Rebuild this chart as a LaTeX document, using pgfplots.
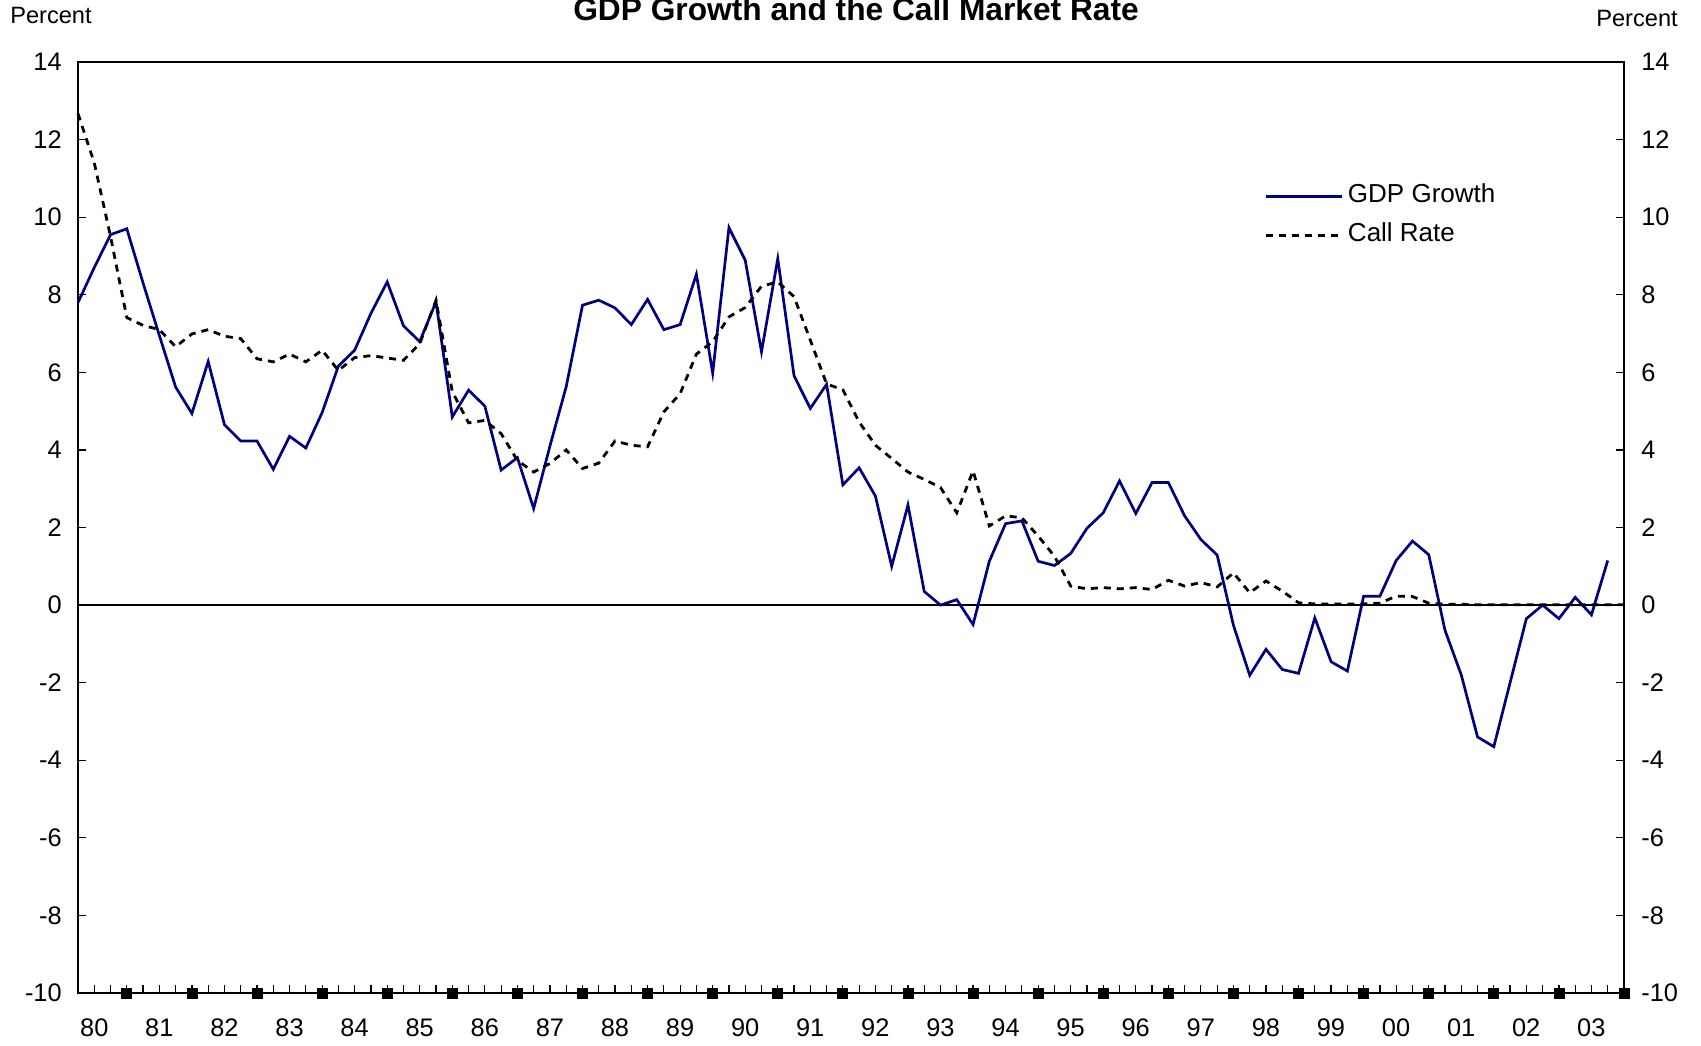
\documentclass[border=0pt]{standalone}
\usepackage{fontspec}
\setmainfont{Liberation Sans}
\usepackage{pgfplots}
\pgfplotsset{compat=1.18}
\usepackage{pgfplotstable}
\definecolor{gdpblue}{RGB}{0,0,128}

\pgfplotstableread{
x gdp call
1980.25 7.80 12.67
1980.50 8.70 11.40
1980.75 9.55 9.50
1981.00 9.70 7.41
1981.25 8.30 7.21
1981.50 6.95 7.10
1981.75 5.62 6.66
1982.00 4.94 6.99
1982.25 6.28 7.10
1982.50 4.65 6.93
1982.75 4.23 6.87
1983.00 4.23 6.35
1983.25 3.50 6.27
1983.50 4.35 6.47
1983.75 4.05 6.27
1984.00 4.96 6.57
1984.25 6.16 6.05
1984.50 6.57 6.38
1984.75 7.52 6.43
1985.00 8.33 6.37
1985.25 7.20 6.31
1985.50 6.79 6.74
1985.75 7.82 7.86
1986.00 4.85 5.50
1986.25 5.54 4.70
1986.50 5.13 4.76
1986.75 3.48 4.42
1987.00 3.80 3.73
1987.25 2.49 3.43
1987.50 4.10 3.65
1987.75 5.63 4.00
1988.00 7.73 3.52
1988.25 7.86 3.66
1988.50 7.66 4.23
1988.75 7.23 4.12
1989.00 7.88 4.08
1989.25 7.10 4.98
1989.50 7.23 5.45
1989.75 8.53 6.47
1990.00 5.98 6.79
1990.25 9.73 7.43
1990.50 8.89 7.67
1990.75 6.53 8.22
1991.00 8.93 8.33
1991.25 5.91 7.95
1991.50 5.07 6.83
1991.75 5.69 5.70
1992.00 3.10 5.55
1992.25 3.54 4.72
1992.50 2.81 4.12
1992.75 1.00 3.78
1993.00 2.58 3.43
1993.25 0.35 3.24
1993.50 0.00 3.03
1993.75 0.14 2.38
1994.00 -0.50 3.46
1994.25 1.13 2.04
1994.50 2.10 2.30
1994.75 2.17 2.25
1995.00 1.13 1.78
1995.25 1.02 1.26
1995.50 1.33 0.49
1995.75 1.98 0.42
1996.00 2.38 0.45
1996.25 3.20 0.42
1996.50 2.36 0.45
1996.75 3.16 0.40
1997.00 3.16 0.64
1997.25 2.30 0.49
1997.50 1.69 0.58
1997.75 1.29 0.47
1998.00 -0.52 0.83
1998.25 -1.81 0.32
1998.50 -1.14 0.62
1998.75 -1.66 0.36
1999.00 -1.76 0.06
1999.25 -0.33 0.03
1999.50 -1.46 0.03
1999.75 -1.70 0.03
2000.00 0.23 0.03
2000.25 0.23 0.05
2000.50 1.15 0.23
2000.75 1.65 0.22
2001.00 1.30 0.05
2001.25 -0.65 0.02
2001.50 -1.80 0.02
2001.75 -3.40 0.01
2002.00 -3.65 0.01
2002.25 -2.00 0.01
2002.50 -0.35 0.01
2002.75 0.00 0.01
2003.00 -0.35 0.01
2003.25 0.20 0.01
2003.50 -0.25 0.01
2003.75 1.15 0.01
2004.00 nan 0.01
}\data

\begin{document}
\begin{tikzpicture}
\begin{axis}[
  scale only axis, width=773pt, height=465.5pt,
  xmin=1980.25, xmax=2004, ymin=-10, ymax=14,
  clip=false,
  axis line style={line width=0.8pt},
  tick style={black, line width=0.6pt},
  tick align=inside,
  major tick length=3.8pt,
  ytick={-10,-8,...,14}, ytick pos=both, yticklabel pos=left,
  yticklabel style={font=\fontsize{12.7}{15}\selectfont, xshift=-4.6pt},
  xtick={1980.5,1980.75,...,2003.8}, xticklabels={}, xtick pos=bottom,
  extra x ticks={1980.5,1981.5,...,2003.6},
  extra x tick labels={80,81,82,83,84,85,86,87,88,89,90,91,92,93,94,95,96,97,98,99,00,01,02,03},
  extra x tick style={major tick length=0pt, xticklabel style={anchor=base, yshift=-21.5pt, font=\fontsize{12.7}{15}\selectfont}},
  /pgf/number format/assume math mode=true,
  legend style={at={(rel axis cs:0.767,0.869)}, anchor=north west, draw=none, fill=none,
    font=\fontsize{13}{15}\selectfont, inner sep=0pt, row sep=7.5pt,
    nodes={inner sep=0pt, text height=9.3pt, text depth=2.7pt},
    /tikz/every odd column/.style={column sep=2.5pt}},
  legend cell align=left,
  legend image code/.code={\draw[#1] (0pt,0pt) -- (38pt,0pt);},
]
\addplot[black, line width=1.3pt, forget plot] coordinates {(1980.25,0) (2004,0)};
\addplot[gdpblue, line width=1.35pt] table[x=x, y=gdp] {\data};
\addlegendentry{GDP Growth}
\addplot[black, line width=1.4pt, dash pattern=on 3.5pt off 3pt] table[x=x, y=call] {\data};
\addlegendentry{Call Rate}
\addplot[only marks, mark=square*, mark size=2.5pt, black, forget plot] coordinates {
(1981,-10) (1982,-10) (1983,-10) (1984,-10) (1985,-10) (1986,-10) (1987,-10) (1988,-10)
(1989,-10) (1990,-10) (1991,-10) (1992,-10) (1993,-10) (1994,-10) (1995,-10) (1996,-10)
(1997,-10) (1998,-10) (1999,-10) (2000,-10) (2001,-10) (2002,-10) (2003,-10) (2004,-10)};
\end{axis}
\begin{axis}[
  scale only axis, width=773pt, height=465.5pt,
  xmin=0, xmax=1, ymin=-10, ymax=14,
  hide x axis, axis y line*=right,
  y axis line style={draw=none},
  ytick={-10,-8,...,14}, major tick length=0pt,
  yticklabel style={font=\fontsize{12.7}{15}\selectfont, xshift=5.1pt},
  /pgf/number format/assume math mode=true,
]
\end{axis}
\node[anchor=base, font=\bfseries\fontsize{15.85}{18}\selectfont] at (389pt,486.25pt) {GDP Growth and the Call Market Rate};
\node[anchor=base, font=\fontsize{11.8}{14}\selectfont] at (-13.5pt,484.5pt) {Percent};
\node[anchor=base, font=\fontsize{11.8}{14}\selectfont] at (779.5pt,483pt) {Percent};
\pgfresetboundingbox
\path[use as bounding box] (-39pt,-26pt) rectangle (811.5pt,496.5pt);
\end{tikzpicture}
\end{document}
